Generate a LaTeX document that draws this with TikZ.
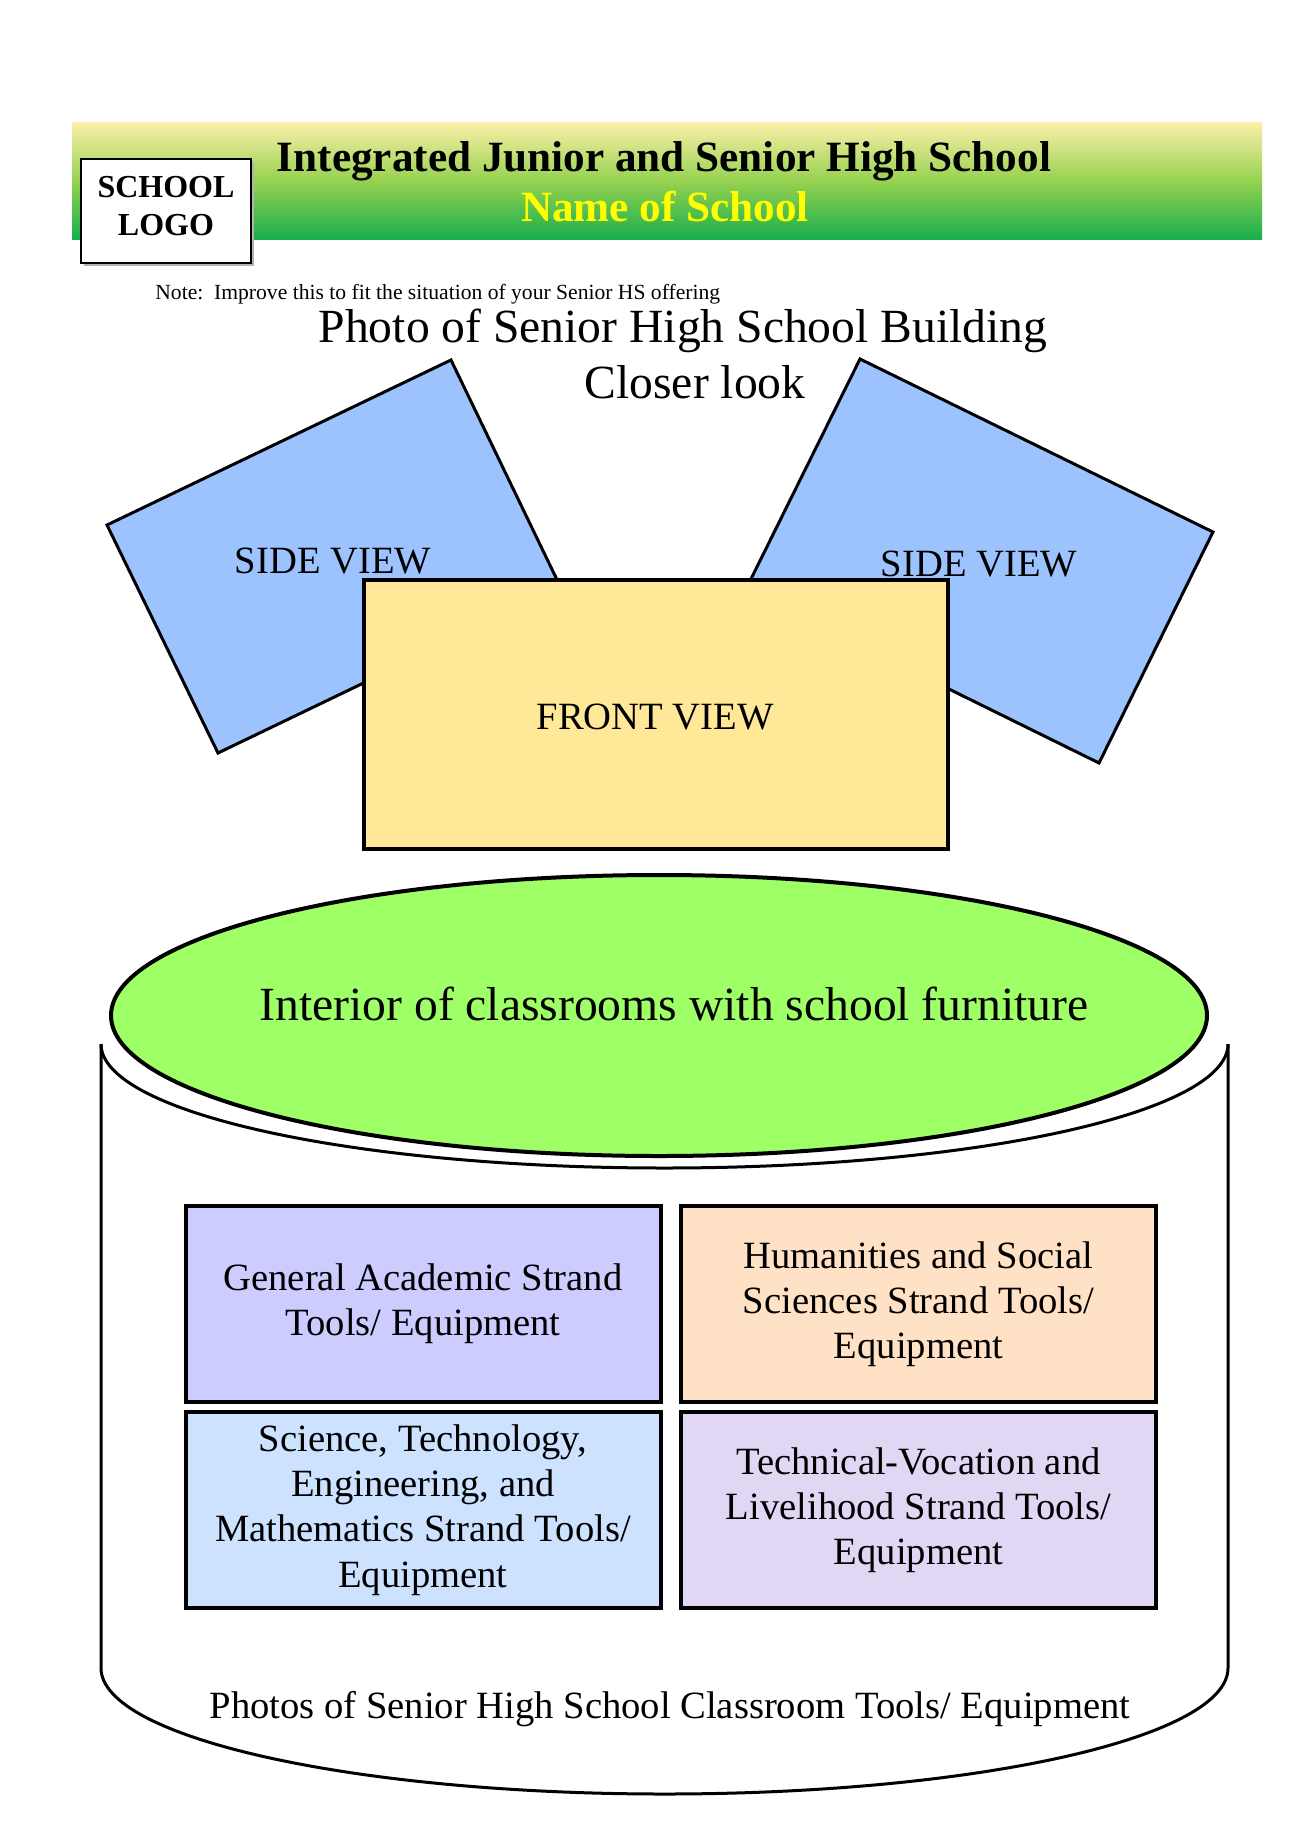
\documentclass[tikz,border=0pt]{standalone}
\usepackage{fontspec}
\setmainfont{Liberation Serif}
\definecolor{hdtop}{HTML}{FBEFA8}
\definecolor{hdmid}{HTML}{96D250}
\definecolor{hdbot}{HTML}{18AE4C}
\definecolor{sideblue}{HTML}{9DC3FF}
\definecolor{frontyel}{HTML}{FFE999}
\definecolor{ellgreen}{HTML}{9EFF66}
\definecolor{gafill}{HTML}{CCCCFF}
\definecolor{hufill}{HTML}{FFE1C5}
\definecolor{stfill}{HTML}{CCE2FF}
\definecolor{tvfill}{HTML}{E1D7F5}
\definecolor{nameyel}{HTML}{FFFF00}
\begin{document}
\begin{tikzpicture}[x=0.5pt,y=-0.5pt,
  lbl/.style={inner sep=0pt, font=\fontsize{19.3}{22.6}\selectfont},
  big/.style={inner sep=0pt, font=\fontsize{23.8}{28}\selectfont},
  hdr/.style={inner sep=0pt, font=\fontsize{21.6}{25}\selectfont\bfseries},
  logotxt/.style={inner sep=0pt, font=\fontsize{16}{19}\selectfont\bfseries},
  strandbox/.style={draw, line width=2pt, minimum width=237.5pt, minimum height=98pt, align=center, font=\fontsize{19.3}{22.6}\selectfont, inner sep=2pt},
  viewpoly/.style={draw, line width=1.5pt, fill=sideblue, line join=miter},
  cyl/.style={draw, line width=1.5pt},
]
\useasboundingbox[fill=white] (0,0) rectangle (1290,1825);

% header band
\shade[top color=hdtop, bottom color=hdbot, middle color=hdmid] (72,123) rectangle (1262,239);
\fill[gray!60] (84,162) rectangle (254,266);
\draw[fill=white, line width=0.6pt] (81,159) rectangle (251,263);
\node[logotxt, anchor=base] (logo1) at (166,197) {SCHOOL};
\node[logotxt, anchor=base] (logo2) at (166,235) {LOGO};
\node[hdr, anchor=base] (title) at (664,171) {Integrated Junior and Senior High School};
\node[hdr, anchor=base, text=nameyel] (name) at (665,221) {Name of School};

% note and titles
\node[inner sep=0pt, anchor=base west, font=\fontsize{10.8}{13}\selectfont] (note) at (155,299) {Note:\ \ Improve this to fit the situation of your Senior HS offering};
\node[big, anchor=base] (photo) at (683,342) {Photo of Senior High School Building};
\node[big, anchor=base] (closer) at (695,398) {Closer look};

% side views
\draw[viewpoly] (451,360) -- (107,525) -- (218,753) -- (561,588) -- cycle;
\draw[viewpoly] (860,359) -- (1213,532) -- (1099,763) -- (746,589) -- cycle;
\node[lbl, anchor=base] (sidel) at (333,573) {SIDE VIEW};
\node[lbl, anchor=base] (sider) at (979,576) {SIDE VIEW};

% front view
\draw[line width=2pt, fill=frontyel] (364,580) rectangle (948,849);
\node[lbl, anchor=base] (front) at (655,729) {FRONT VIEW};

% cylinder
\path[fill=white] (101,1044) -- (101,1668) arc[start angle=180, end angle=0, x radius=563.5, y radius=126] -- (1228,1044) -- cycle;
\draw[cyl] (101,1044) -- (101,1668) arc[start angle=180, end angle=0, x radius=563.5, y radius=126] -- (1228,1044);
\draw[cyl] (101,1044) arc[start angle=180, end angle=0, x radius=563.5, y radius=124];
\draw[line width=2pt, fill=ellgreen] (659,1015.5) ellipse [x radius=548, y radius=140.5];
\node[big, anchor=base] (interior) at (674,1020) {Interior of classrooms with school furniture};

% strand boxes
\node[strandbox, fill=gafill] (ga) at (423,1304) {General Academic Strand\\Tools/ Equipment};
\node[strandbox, fill=hufill] (hu) at (918.5,1304) {Humanities and Social\\Sciences Strand Tools/\\Equipment};
\node[strandbox, fill=stfill] (st) at (423,1510) {Science, Technology,\\Engineering, and\\Mathematics Strand Tools/\\Equipment};
\node[strandbox, fill=tvfill] (tv) at (918.5,1510) {Technical-Vocation and\\Livelihood Strand Tools/\\Equipment};

\node[lbl, anchor=base] (photos) at (670,1718) {Photos of Senior High School Classroom Tools/ Equipment};
\end{tikzpicture}
\end{document}
